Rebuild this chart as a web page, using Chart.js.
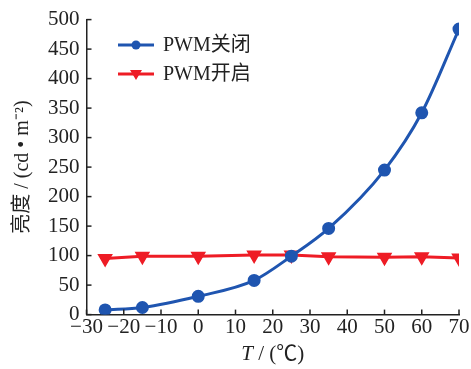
<!DOCTYPE html>
<html>
<head>
<meta charset="utf-8">
<script src="https://cdn.jsdelivr.net/npm/chart.js@4"></script>
<style>
  html, body { margin: 0; padding: 0; background: #fff; }
  #wrap { width: 471px; height: 369px; }
</style>
</head>
<body>
<div id="wrap"><canvas id="chart"></canvas></div>
<script>
const temps = [-25, -15, 0, 15, 25, 35, 50, 60, 70];
const pwmOff = [8, 12, 31, 58, 99, 146, 245, 342, 484];
const pwmOn = [95, 99, 99, 101, 101, 98, 97, 98, 96];
const seriesNames = ['PWM关闭', 'PWM开启'];

const BLUE = '#1f55b0';
const RED = '#ee1c25';
const TEXT = '#222';
const FONT = '"Liberation Serif", "Times New Roman", "Noto Sans CJK SC", serif';

const minus = (v) => String(v).replace('-', '\u2212');

// inward tick marks, x title with italic T, legend with line and marker
const extras = {
  id: 'extras',
  afterDraw(chart) {
    const { ctx, scales: { x, y }, chartArea } = chart;
    ctx.save();
    ctx.strokeStyle = TEXT;
    ctx.lineWidth = 1.5;
    x.ticks.forEach((t) => {
      const px = x.getPixelForValue(t.value);
      ctx.beginPath();
      ctx.moveTo(px, chartArea.bottom);
      ctx.lineTo(px, chartArea.bottom - 5);
      ctx.stroke();
    });
    y.ticks.forEach((t) => {
      const py = y.getPixelForValue(t.value);
      ctx.beginPath();
      ctx.moveTo(chartArea.left, py);
      ctx.lineTo(chartArea.left + 5, py);
      ctx.stroke();
    });

    // x title: italic T then the rest
    const tFont = 'italic 21px ' + FONT;
    const rFont = '21px ' + FONT;
    const rest = ' / (℃)';
    ctx.font = tFont;
    const wT = ctx.measureText('T').width;
    ctx.font = rFont;
    const wR = ctx.measureText(rest).width;
    const cx0 = (chartArea.left + chartArea.right) / 2 - (wT + wR) / 2;
    const ty = 354;
    ctx.fillStyle = TEXT;
    ctx.textBaseline = 'middle';
    ctx.textAlign = 'left';
    ctx.font = tFont;
    ctx.fillText('T', cx0, ty);
    ctx.font = rFont;
    ctx.fillText(rest, cx0 + wT, ty);

    // legend
    const items = [
      { label: seriesNames[0], color: BLUE, marker: 'circle' },
      { label: seriesNames[1], color: RED, marker: 'triangle' },
    ];
    const lx = 118, ly = 45, gap = 29;
    ctx.font = '20px ' + FONT;
    items.forEach((it, i) => {
      const yy = ly + i * gap;
      ctx.strokeStyle = it.color;
      ctx.fillStyle = it.color;
      ctx.lineWidth = 3;
      ctx.beginPath();
      ctx.moveTo(lx, yy);
      ctx.lineTo(lx + 36, yy);
      ctx.stroke();
      const cx = lx + 18;
      ctx.beginPath();
      if (it.marker === 'circle') {
        ctx.arc(cx, yy, 4.5, 0, Math.PI * 2);
      } else {
        ctx.moveTo(cx - 6, yy - 4);
        ctx.lineTo(cx + 6, yy - 4);
        ctx.lineTo(cx, yy + 6);
        ctx.closePath();
      }
      ctx.fill();
      ctx.fillStyle = TEXT;
      ctx.fillText(it.label, lx + 45, yy + 1);
    });
    ctx.restore();
  },
};

new Chart(document.getElementById('chart'), {
  type: 'line',
  data: {
    datasets: [
      {
        label: seriesNames[0],
        data: temps.map((t, i) => ({ x: t, y: pwmOff[i] })),
        borderColor: BLUE,
        backgroundColor: BLUE,
        borderWidth: 3,
        pointStyle: 'circle',
        pointRadius: 5,
        cubicInterpolationMode: 'monotone',
      },
      {
        label: seriesNames[1],
        data: temps.map((t, i) => ({ x: t, y: pwmOn[i] })),
        borderColor: RED,
        backgroundColor: RED,
        borderWidth: 3,
        pointStyle: 'triangle',
        rotation: 180,
        pointRadius: 6,
      },
    ],
  },
  options: {
    responsive: true,
    maintainAspectRatio: false,
    animation: false,
    layout: { padding: { top: 5, right: 12, left: 11, bottom: 4 } },
    plugins: {
      legend: { display: false },
      tooltip: { enabled: false },
    },
    scales: {
      x: {
        type: 'linear',
        min: -30,
        max: 70,
        ticks: {
          stepSize: 10,
          color: TEXT,
          font: { family: FONT, size: 21 },
          padding: 0,
          maxRotation: 0,
          callback: (v) => minus(v),
        },
        grid: { display: false, drawTicks: false },
        border: { display: true, color: TEXT, width: 1.5 },
        title: {
          display: true,
          text: 'T / (℃)',
          color: 'rgba(0,0,0,0)',
          font: { family: FONT, size: 21 },
          padding: { top: 0, bottom: 0 },
        },
      },
      y: {
        min: 0,
        max: 500,
        ticks: {
          stepSize: 50,
          color: TEXT,
          font: { family: FONT, size: 21 },
          padding: 7,
        },
        grid: { display: false, drawTicks: false },
        border: { display: true, color: TEXT, width: 1.5 },
        title: {
          display: true,
          text: '亮度 / (cd • m⁻²)',
          color: TEXT,
          font: { family: FONT, size: 20 },
          padding: { top: 0, bottom: 6 },
        },
      },
    },
  },
  plugins: [extras],
});
</script>
</body>
</html>
